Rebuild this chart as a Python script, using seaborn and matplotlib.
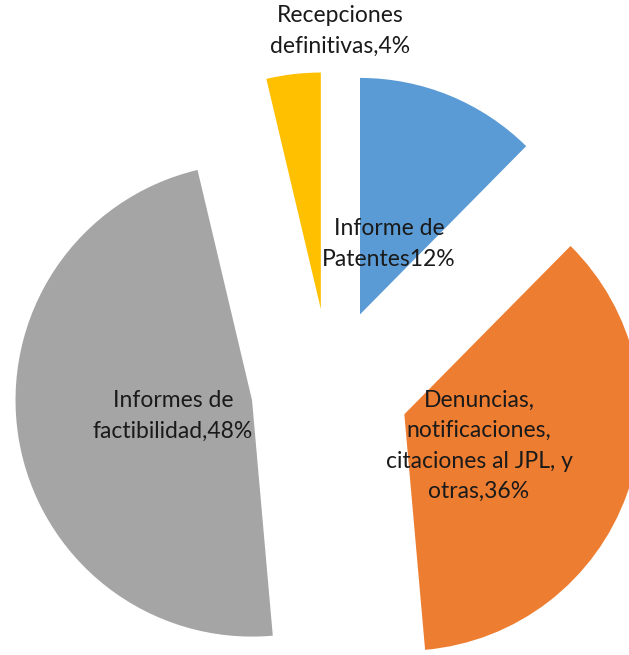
import numpy as np
import matplotlib
matplotlib.use("Agg")
import matplotlib.pyplot as plt
import seaborn as sns

sns.set_theme(style="white")
plt.rcParams['font.family'] = ['Lato', 'DejaVu Sans']

# data (shares; labels show rounded %)
categories = ["Informe de\nPatentes", "Denuncias,\nnotificaciones,\ncitaciones al JPL, y\notras",
              "Informes de\nfactibilidad", "Recepciones\ndefinitivas"]
separators = ["", ",", ",", ","]
values = [12.4, 36.2, 47.7, 3.7]
colors = sns.color_palette(["#5B9BD5", "#ED7D31", "#A5A5A5", "#FFC000"])

# label centres in figure pixels (x, y from top)
label_px = [(389, 244), (479, 446), (173, 416), (340, 31)]

W, H = 629, 655
R = 236.5           # pie radius in pixels
cx, cy = 330, 387.5 # pie centre in pixels

fig = plt.figure(figsize=(W / 100, H / 100), dpi=100)
ax = fig.add_axes([0, 0, 1, 1])
ax.pie(values, colors=colors, startangle=90, counterclock=False,
       explode=[0.334] * len(values), radius=1.0,
       wedgeprops=dict(linewidth=0))
ax.set_xlim(-cx / R, (W - cx) / R)
ax.set_ylim(-(H - cy) / R, cy / R)
ax.set_aspect("equal")
ax.axis("off")

for cat, sep, v, (px, py) in zip(categories, separators, values, label_px):
    fig.text(px / W, 1 - py / H, f"{cat}{sep}{round(v)}%", ha="center", va="center",
             fontsize=16.5, color="#1a1a1a", linespacing=1.55)

fig.savefig("out.png", dpi=100)
